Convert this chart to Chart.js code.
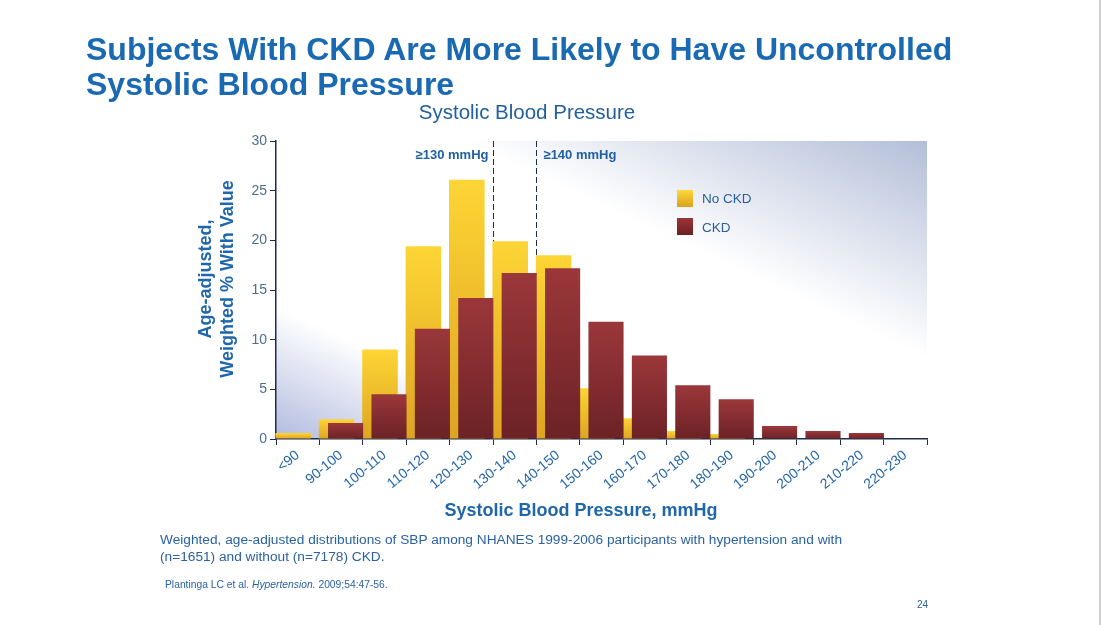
<!DOCTYPE html>
<html>
<head>
<meta charset="utf-8">
<script src="https://cdn.jsdelivr.net/npm/chart.js@4.4.1/dist/chart.umd.min.js"></script>
<style>
    body { margin: 0; background: #fff; font-family: "Liberation Sans", Arial, sans-serif; }
    #slide { position: relative; width: 1101px; height: 625px; overflow: hidden; background: #fff; }
    #slide::after { content: ''; position: absolute; top: 0; right: 0; width: 2px; height: 625px; background: #cfcfcf; }
    #sbpChart { position: absolute; left: 0; top: 0; }
    .txt { position: absolute; white-space: nowrap; }
    .title { left: 86px; top: 32px; font-size: 32px; line-height: 35px; font-weight: bold; color: #1a69b3; }
    .subtitle { left: 527px; top: 102px; font-size: 20.5px; line-height: 1; color: #22609d; transform: translateX(-50%); }
    .x-title { left: 581px; top: 501px; font-size: 18px; line-height: 1; font-weight: bold; color: #1f66ab; transform: translateX(-50%); }
    .y-title { left: 96px; top: 257px; width: 240px; height: 44px; font-size: 18px; line-height: 22px; font-weight: bold;
               color: #1f66ab; text-align: center; transform: rotate(-90deg); }
    .legend-box { position: absolute; left: 677px; width: 16px; height: 17px; }
    .legend-label { left: 702px; font-size: 13.5px; line-height: 1; color: #2c5f99; }
    .note { left: 160px; top: 531px; font-size: 13.7px; line-height: 17px; color: #2b62a3; }
    .cite { left: 165px; top: 580px; font-size: 10.3px; line-height: 1; color: #2b62a3; }
    .page { left: 917px; top: 600px; font-size: 10px; line-height: 1; color: #2b62a3; }
</style>
</head>
<body>
<div id="slide">
    <canvas id="sbpChart" width="1101" height="625"></canvas>
    <div class="txt title">Subjects With CKD Are More Likely to Have Uncontrolled<br>Systolic Blood Pressure</div>
    <div class="txt subtitle">Systolic Blood Pressure</div>
    <div class="txt y-title">Age-adjusted,<br>Weighted % With Value</div>
    <div class="txt x-title">Systolic Blood Pressure, mmHg</div>

    <div class="legend-box" style="top:190px; background: linear-gradient(#ffd83a, #d8a11f);"></div>
    <div class="txt legend-label" style="top:192px;">No CKD</div>
    <div class="legend-box" style="top:218px; background: linear-gradient(#9c3539, #6a1f23);"></div>
    <div class="txt legend-label" style="top:221px;">CKD</div>

    <div class="txt note">Weighted, age-adjusted distributions of SBP among NHANES 1999-2006 participants with hypertension and with<br>(n=1651) and without (n=7178) CKD.</div>
    <div class="txt cite">Plantinga LC et al. <i>Hypertension.</i> 2009;54:47-56.</div>
    <div class="txt page">24</div>
</div>

<script>
// Data
const categories = ['<90', '90-100', '100-110', '110-120', '120-130', '130-140', '140-150',
    '150-160', '160-170', '170-180', '180-190', '190-200', '200-210', '210-220', '220-230'];
const noCkdValues = [0.6, 2.0, 9.0, 19.4, 26.1, 19.9, 18.5, 5.1, 2.1, 0.8, 0.5, 0, 0, 0, 0];
const ckdValues = [0, 1.6, 4.5, 11.1, 14.2, 16.7, 17.2, 11.8, 8.4, 5.4, 4.0, 1.3, 0.8, 0.6, 0];
const yMax = 30;
const yStep = 5;

// dashed threshold lines sit at the left edge of these categories
const thresholdLabels = ['≥130 mmHg', '≥140 mmHg'];
const thresholdStart = ['130-140', '140-150'];
const thresholdAlign = ['right', 'left'];

const NAVY = '#1c2d4c';

// vertical gradient for each bar, top light -> bottom dark
function barGradient(ctx, topColor, bottomColor) {
    const chart = ctx.chart;
    if (!chart.chartArea || ctx.type !== 'data') return topColor;
    const y = chart.scales.y;
    const yTop = y.getPixelForValue(ctx.parsed.y);
    const yBase = y.getPixelForValue(0);
    if (!isFinite(yTop) || yBase - yTop < 1) return topColor;
    const g = chart.ctx.createLinearGradient(0, yTop, 0, yBase);
    g.addColorStop(0, topColor);
    g.addColorStop(1, bottomColor);
    return g;
}

// soft blue shading in the plot area corners
const plotBackground = {
    id: 'plotBackground',
    beforeDraw(chart) {
        const { ctx, chartArea: a } = chart;
        const len = Math.hypot(209, 447);
        const ux = -209 / len, uy = 447 / len;
        const span = (a.left - a.right) * ux + (a.bottom - a.top) * uy;
        const g = ctx.createLinearGradient(a.right, a.top, a.right + ux * span, a.top + uy * span);
        g.addColorStop(0, '#b3bed8');
        g.addColorStop(0.36, '#ffffff');
        g.addColorStop(0.78, '#ffffff');
        g.addColorStop(1, '#b2bbdf');
        ctx.save();
        ctx.fillStyle = g;
        ctx.fillRect(a.left, a.top, a.right - a.left, a.bottom - a.top);
        ctx.restore();
    }
};

// threshold lines behind the bars, then bars drawn so CKD lies on top
const thresholdsAndBars = {
    id: 'thresholdsAndBars',
    beforeDatasetsDraw(chart) {
        const { ctx, chartArea: a } = chart;
        const x = chart.scales.x;
        ctx.save();
        thresholdStart.forEach((cat, k) => {
            const i = categories.indexOf(cat);
            const px = Math.round((x.getPixelForValue(i - 1) + x.getPixelForValue(i)) / 2) + 0.5;
            ctx.strokeStyle = NAVY;
            ctx.lineWidth = 1;
            ctx.setLineDash([6, 3]);
            ctx.beginPath();
            ctx.moveTo(px, a.top);
            ctx.lineTo(px, a.bottom);
            ctx.stroke();
            ctx.font = 'bold 13px "Liberation Sans", Arial, sans-serif';
            ctx.fillStyle = '#2061a3';
            ctx.textBaseline = 'middle';
            ctx.textAlign = thresholdAlign[k];
            ctx.fillText(thresholdLabels[k], thresholdAlign[k] === 'right' ? px - 5 : px + 7, a.top + 14);
        });
        ctx.restore();
        chart.getSortedVisibleDatasetMetas().forEach(meta => meta.controller.draw());
        return false;
    }
};

new Chart(document.getElementById('sbpChart'), {
    type: 'bar',
    data: {
        labels: categories,
        datasets: [
            {
                label: 'No CKD',
                data: noCkdValues,
                backgroundColor: (c) => barGradient(c, '#fdd535', '#dda421'),
                borderWidth: 0,
                categoryPercentage: 0.415,
                barPercentage: 3.95
            },
            {
                label: 'CKD',
                data: ckdValues,
                backgroundColor: (c) => barGradient(c, '#9b373a', '#6c2226'),
                borderWidth: 0,
                categoryPercentage: 0.415,
                barPercentage: 3.9
            }
        ]
    },
    options: {
        responsive: false,
        animation: false,
        layout: { padding: { left: 176, top: 141, right: 174, bottom: 126 } },
        plugins: {
            legend: { display: false },
            tooltip: { enabled: false }
        },
        scales: {
            x: {
                offset: true,
                afterFit: (s) => { s.height = 60; },
                grid: { offset: true, drawOnChartArea: false, drawTicks: true, tickLength: 6, color: NAVY },
                border: { color: NAVY, width: 1.5 },
                ticks: {
                    autoSkip: false, minRotation: 40, maxRotation: 40, padding: 2,
                    color: '#2566aa', font: { family: '"Liberation Sans", Arial, sans-serif', size: 14 }
                }
            },
            y: {
                min: 0,
                max: yMax,
                afterFit: (s) => { s.width = 100; },
                grid: { drawOnChartArea: false, drawTicks: true, tickLength: 6, color: NAVY },
                border: { color: NAVY, width: 1.5 },
                ticks: {
                    stepSize: yStep, padding: 3,
                    color: '#4d6e92', font: { family: '"Liberation Sans", Arial, sans-serif', size: 14 }
                }
            }
        }
    },
    plugins: [plotBackground, thresholdsAndBars]
});
</script>
</body>
</html>
